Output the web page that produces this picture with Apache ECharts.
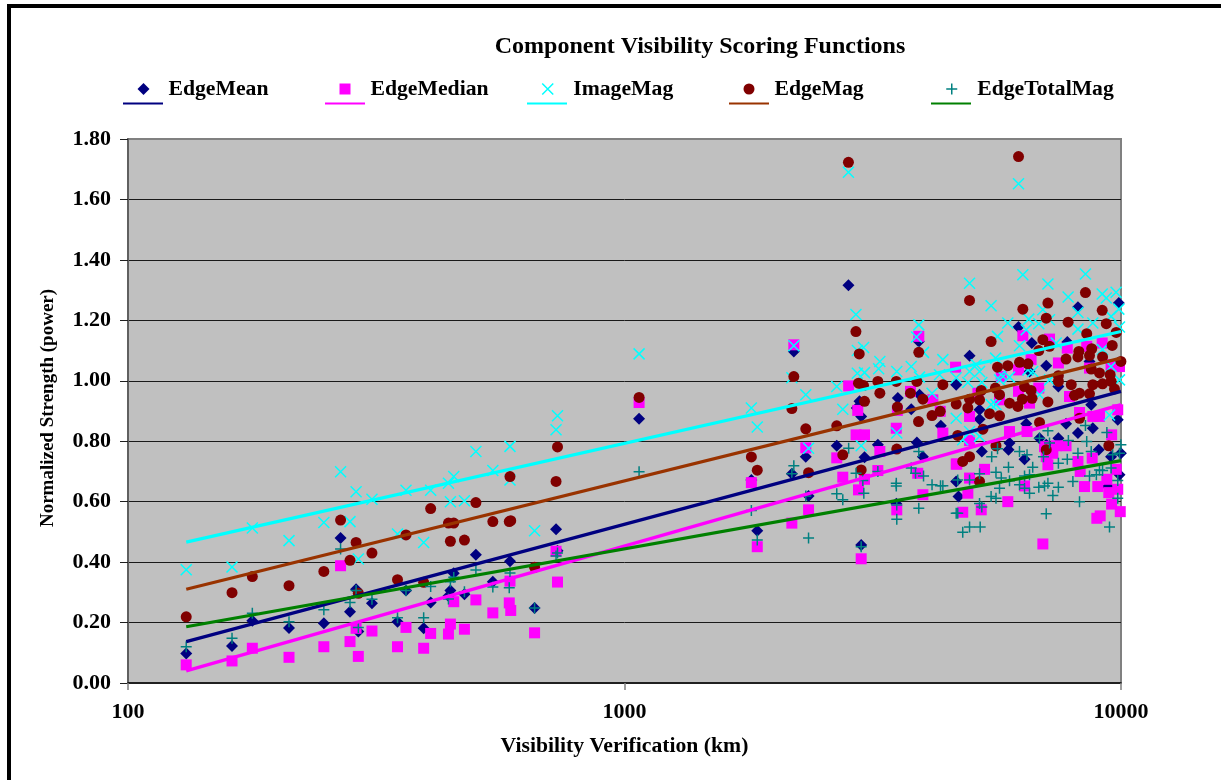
<!DOCTYPE html>
<html>
<head>
<meta charset="utf-8">
<script src="https://cdn.jsdelivr.net/npm/echarts@6/dist/echarts.min.js"></script>
<style>
html,body{margin:0;padding:0;background:#fff;overflow:hidden}
#frame{position:absolute;left:7px;top:4px;width:1214px;height:776px;border-left:4px solid #000;border-top:4px solid #000;box-sizing:border-box}
#chart{position:absolute;left:0;top:0;width:1221px;height:780px}
</style>
</head>
<body>
<div id="frame"></div>
<div id="chart"></div>
<script>
const seriesNames = ['EdgeMean','EdgeMedian','ImageMag','EdgeMag','EdgeTotalMag'];
const markerColors = ['#000080','#FF00FF','#00FFFF','#800000','#008080'];
const trendColors = ['#000080','#FF00FF','#00FFFF','#993300','#008000'];
const yTicks = [0,0.2,0.4,0.6,0.8,1.0,1.2,1.4,1.6,1.8];

const edgeMean = [[131,.098],[162,.1225],[178,.206],[211,.182],[248,.198],[268,.48],[280,.236],[288,.31],[291,.17],[310,.264],[349,.203],[363,.306],[394,.181],[407,.266],[442,.288],[446,.306],[453,.363],[476,.294],[502,.424],[543,.335],[588,.403],[659,.248],[728,.509],[733,.438],[1070,.874],[1801,.672],[1851,.504],[2173,.692],[2193,1.097],[2318,.749],[2348,.619],[2676,.785],
[2825,1.316],[3552,.943],[2974,.932],[2937,.91],[2997,.882],[3780,.906],[3928,.954],[4657,.987],[4336,.851],[3238,.788],[3044,.747],[3880,.796],[3990,.749],[3527,.593],[2997,.457],[4657,.667],[4707,.617],[3915,1.13],[4954,1.083],[9900,1.257],[8190,1.243],[6217,1.178],[6613,1.125],[7795,1.128],[7070,1.05],[7480,.981],[8641,1.064],[6543,1.031],[5189,.904],[5189,.873],[6444,.858],[7750,.858],[8190,.827],[8775,.843],[8710,.921],[9850,.871],[6853,.81],[7480,.81],[5963,.794],[5935,.772],[5244,.766],[6393,.74],[7070,.788],[9020,.772],[9995,.76],[9550,.749],[9410,.65],[9930,.689]];

const edgeMedian = [[131,.06],[162,.073],[178,.115],[211,.085],[248,.12],[268,.388],[280,.137],[288,.181],[291,.088],[310,.172],[349,.12],[363,.184],[394,.115],[407,.164],[442,.162],[446,.195],[453,.269],[476,.178],[502,.275],[543,.232],[588,.337],[586,.265],[590,.24],[659,.166],[728,.436],[733,.334],[1070,.928],[1801,.663],[1851,.451],[2173,.529],[2193,1.119],[2318,.778],[2348,.573],[2676,.745],
[2828,.983],[3767,.965],[4178,.937],[4324,.899],[2950,.902],[3545,.902],[3527,.843],[2927,.821],[3044,.821],[4377,.827],[3268,.766],[2752,.681],[3238,.703],[3044,.674],[2960,.639],[3896,.694],[3990,.623],[4657,.724],[3535,.573],[2997,.411],[3915,1.147],[6343,1.149],[7178,1.138],[7795,1.108],[8530,1.114],[9165,1.125],[4643,1.045],[6590,1.07],[7480,1.059],[6217,1.036],[9550,1.053],[9930,1.047],[5740,1.014],[6830,.976],[6217,.965],[6543,.926],[7876,.948],[8641,1.042],[5150,.959],[5693,.937],[9850,.904],[9050,.882],[8250,.895],[8775,.882],[4954,.882],[9575,.821],[5963,.832],[6467,.832],[4954,.802],[7750,.785],[7405,.785],[7014,.782],[7290,.76],[8190,.733],[8750,.744],[7070,.749],[7125,.722],[4670,.725],[5311,.707],[8275,.7],[9780,.707],[4954,.678],[6393,.652],[9365,.674],[8443,.65],[8980,.65],[9450,.63],[9850,.641],[4915,.628],[5916,.6],[9575,.592],[4800,.565],[5230,.573],[9080,.553],[8940,.545],[9965,.567],[6960,.46]];

const imageMag = [[131,.375],[162,.384],[178,.513],[211,.471],[248,.531],[268,.699],[280,.534],[288,.633],[291,.41],[310,.608],[349,.493],[363,.638],[394,.465],[407,.638],[442,.661],[446,.6],[453,.683],[476,.603],[502,.766],[543,.703],[588,.783],[588,.672],[659,.504],[728,.838],[733,.884],[1070,1.089],[1801,.91],[1851,.847],[2173,1.01],[2193,1.116],[2318,.954],[2348,.777],[2676,.981],
[2825,1.69],[6217,1.652],[2925,1.219],[3030,1.11],[2945,1.1],[3915,1.185],[3873,1.145],[4002,1.094],[2752,.906],[2944,1.025],[3044,1.027],[3268,1.064],[3250,1.04],[3535,1.031],[3780,1.047],[3928,1.012],[4377,1.07],[4310,1.02],[4163,.959],[4657,1.01],[4657,.876],[2997,.785],[3535,.827],[4954,1.323],[6343,1.351],[8480,1.353],[7125,1.32],[9775,1.293],[9165,1.287],[9340,1.274],[7825,1.277],[5475,1.248],[9900,1.237],[6960,1.235],[8190,1.226],[6520,1.204],[5916,1.191],[6830,1.189],[7178,1.202],[6444,1.169],[5640,1.147],[8775,1.191],[8190,1.171],[9550,1.213],[9930,1.178],[6246,1.116],[7405,1.125],[5590,1.075],[9175,1.103],[5110,1.053],[4954,1.031],[5189,1.031],[6495,1.036],[6640,1.031],[5740,1.02],[5963,1.012],[4915,.994],[5244,.994],[5693,1.003],[7178,1.003],[9930,1.003],[9550,1.047],[6853,.954],[5475,.921],[5600,.921],[9481,.887],[4954,.832],[4800,.805],[5189,.816]];

const edgeMag = [[131,.219],[162,.299],[178,.352],[211,.322],[248,.369],[268,.539],[280,.406],[288,.465],[291,.297],[310,.43],[349,.342],[363,.49],[394,.333],[407,.577],[442,.529],[446,.469],[453,.529],[476,.473],[502,.597],[543,.534],[588,.683],[586,.534],[590,.537],[659,.383],[728,.667],[733,.781],[1070,.945],[1801,.748],[1851,.704],[2173,.908],[2193,1.014],[2318,.841],[2348,.696],[2676,.851],
[2825,1.723],[6217,1.742],[2925,1.163],[2970,1.089],[2960,.992],[3030,.984],[3238,.998],[3268,.959],[3527,.998],[3880,.998],[3767,.959],[3990,.939],[4377,.987],[3915,1.094],[3044,.932],[3545,.913],[4324,.899],[4163,.885],[3910,.865],[4657,.923],[4690,.819],[2752,.755],[3535,.774],[2997,.705],[4954,1.266],[8480,1.292],[7125,1.257],[6343,1.237],[9165,1.233],[7070,1.207],[7825,1.194],[9340,1.189],[9780,1.16],[8530,1.156],[5475,1.13],[6960,1.136],[7178,1.114],[6830,1.1],[9600,1.117],[8730,1.106],[8225,1.097],[8190,1.079],[8641,1.084],[7750,1.072],[9180,1.079],[9995,1.064],[6246,1.061],[6495,1.056],[5916,1.05],[5640,1.045],[8710,1.039],[9050,1.026],[9510,1.02],[7480,1.017],[7480,.998],[7940,.987],[8775,.987],[9180,.99],[9550,.998],[9703,.973],[6393,.981],[6590,.968],[5230,.968],[5585,.976],[8060,.952],[8250,.959],[8641,.957],[5693,.954],[4954,.939],[5189,.937],[6620,.942],[6330,.939],[5963,.926],[7125,.93],[6198,.915],[4915,.91],[5600,.785],[7070,.772],[9450,.785],[4954,.749],[4800,.733],[6853,.862],[5693,.884],[5436,.891],[8250,.876],[5270,.84],[5189,.667]];

const edgeTotalMag = [[131,.12],[162,.148],[178,.231],[211,.203],[248,.242],[268,.443],[280,.266],[288,.306],[291,.184],[310,.277],[349,.216],[363,.306],[394,.216],[407,.319],[442,.278],[446,.335],[453,.35],[476,.302],[502,.374],[543,.318],[588,.364],[586,.315],[659,.248],[728,.42],[733,.43],[1070,.699],[1801,.571],[1851,.473],[2173,.692],[2193,.719],[2318,.619],[2348,.48],[2676,.626],
[2828,.777],[3238,.7],[2927,.694],[3020,.67],[2752,.606],[3034,.628],[3527,.661],[3527,.652],[3535,.589],[3535,.542],[3915,.766],[3780,.711],[3856,.694],[4002,.685],[4163,.656],[4330,.653],[4377,.653],[3915,.578],[4657,.562],[2997,.451],[8480,.852],[7125,.835],[6853,.81],[7178,.794],[7835,.802],[8530,.799],[9365,.829],[9995,.788],[5640,.775],[6246,.766],[6467,.755],[5490,.749],[6980,.749],[8190,.76],[8710,.766],[9620,.755],[9930,.76],[7795,.74],[7480,.727],[5935,.714],[6640,.714],[5600,.697],[9050,.705],[9550,.711],[5740,.678],[5963,.669],[6393,.685],[6543,.689],[4690,.672],[4954,.672],[5189,.692],[8641,.685],[8920,.689],[9180,.703],[9850,.67],[7125,.661],[7014,.652],[7480,.648],[8000,.667],[6830,.648],[5693,.644],[6246,.656],[6393,.644],[6543,.628],[7290,.62],[5475,.617],[5600,.611],[5189,.594],[5244,.582],[8250,.6],[9850,.611],[4690,.562],[7070,.56],[4954,.516],[5205,.516],[4800,.499],[9481,.516]];

const trendEnds = [
  [[131,.137],[10000,.965]],
  [[131,.04],[10000,.921]],
  [[131,.466],[10000,1.163]],
  [[131,.31],[10000,1.075]],
  [[131,.186],[10000,.736]]
];

const font = '"Liberation Serif","Times New Roman",serif';
const crossIcon = 'path://M0 0L10 10M10 0L0 10';
const plusIcon = 'path://M5 0L5 10M0 5L10 5';

const allPoints = [edgeMean, edgeMedian, imageMag, edgeMag, edgeTotalMag];
const symbols = ['diamond','rect',crossIcon,'circle',plusIcon];
const sizes = [12,11,11,11,11];
const legendIconSizes = [12,11,11,11,11];

function markerStyle(i){
  if(i===2||i===4) return {color:'rgba(0,0,0,0)',borderColor:markerColors[i],borderWidth:1.5,opacity:1};
  return {color:markerColors[i],borderWidth:0,opacity:1};
}

const scatterSeries = seriesNames.map((n,i)=>({
  name:n,type:'scatter',data:allPoints[i],symbol:symbols[i],symbolSize:sizes[i],
  itemStyle:markerStyle(i),z:2+i,emphasis:{disabled:true},animation:false
}));
const trendSeries = seriesNames.map((n,i)=>({
  name:n+' trend',type:'line',data:trendEnds[i],symbol:'none',showSymbol:false,
  lineStyle:{color:trendColors[i],width:3.2,cap:'butt'},z:10+i,silent:true,animation:false
}));

const legendLefts = [132.5,334.5,536.5,738.5,940.5];
const legends = seriesNames.map((n,i)=>({
  data:[{name:n,icon:symbols[i],itemStyle:markerStyle(i)}],
  left:legendLefts[i],top:73,itemWidth:legendIconSizes[i],itemHeight:legendIconSizes[i],selectedMode:false,
  textStyle:{fontFamily:font,fontWeight:'bold',fontSize:21.7,color:'#000',padding:[0,0,0,14-(legendIconSizes[i]-12)]}
}));
const keyLefts = [123,325,527,729,931];
const keyLines = keyLefts.map((x,i)=>({
  type:'line',shape:{x1:x,y1:103.5,x2:x+40,y2:103.5},
  style:{stroke:trendColors[i],lineWidth:2}
}));

const chart = echarts.init(document.getElementById('chart'),null,{renderer:'canvas'});
chart.setOption({
  animation:false,
  backgroundColor:'transparent',
  title:{text:'Component Visibility Scoring Functions',left:695,top:30,textAlign:'center',
    textStyle:{fontFamily:font,fontWeight:'bold',fontSize:24,color:'#000'}},
  legend:legends,
  graphic:keyLines,
  grid:{left:128,top:139,width:993,height:544,show:true,backgroundColor:'#C0C0C0',borderColor:'#808080',borderWidth:2},
  xAxis:{type:'log',logBase:10,min:100,max:10000,
    name:'Visibility Verification (km)',nameLocation:'middle',nameGap:52,
    nameTextStyle:{fontFamily:font,fontWeight:'bold',fontSize:21.7,color:'#000'},
    axisLine:{show:true,onZero:false,lineStyle:{color:'#000',width:1.5}},
    axisTick:{show:true,length:7,lineStyle:{color:'#808080',width:1.5}},
    minorTick:{show:false},
    splitLine:{show:false},minorSplitLine:{show:false},
    axisLabel:{margin:18,fontFamily:font,fontWeight:'bold',fontSize:22,color:'#000',formatter:v=>String(Math.round(v)),showMinLabel:true,showMaxLabel:true}},
  yAxis:{type:'value',min:0,max:1.8,interval:0.2,
    name:'Normalized Strength (power)',nameLocation:'middle',nameGap:70,nameRotate:90,
    nameTextStyle:{fontFamily:font,fontWeight:'bold',fontSize:19,color:'#000',padding:[0,0,0,6]},
    axisLine:{show:true,onZero:false,lineStyle:{color:'#606060',width:2}},
    axisTick:{show:true,length:8,lineStyle:{color:'#202020',width:1}},
    splitLine:{show:true,showMinLine:false,showMaxLine:false,lineStyle:{color:'#1a1a1a',width:1}},
    axisLabel:{margin:17,fontFamily:font,fontWeight:'bold',fontSize:22,color:'#000',padding:[5,0,0,0],
      customValues:yTicks,formatter:v=>v.toFixed(2)}},
  series:scatterSeries.concat(trendSeries)
});
</script>
</body>
</html>
